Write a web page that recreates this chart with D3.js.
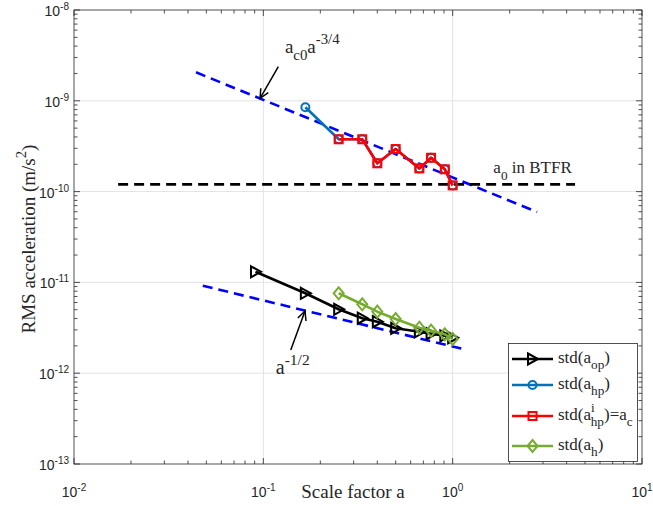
<!DOCTYPE html>
<html lang="en">
<head>
<meta charset="UTF-8">
<script src="https://d3js.org/d3.v7.min.js"></script>
<style>
    body { margin: 0; background: #fff; }
    text { fill: #262626; }
</style>
</head>
<body>
<script>

    // scale factor a of each snapshot, and the rms accelerations (m/s^2)
    var aOp   = [0.0909, 0.1667, 0.25, 0.333, 0.4, 0.5, 0.667, 0.769, 0.909, 1.0];
    var stdOp = [1.31e-11, 7.59e-12, 5.06e-12, 4.03e-12, 3.69e-12, 3.12e-12, 2.86e-12, 2.72e-12, 2.58e-12, 2.46e-12];

    var aHp   = [0.1667, 0.25, 0.333, 0.4, 0.5, 0.667, 0.769, 0.909, 1.0];
    var stdHp = [8.5e-10, 3.77e-10, 3.77e-10, 2.05e-10, 2.94e-10, 1.8e-10, 2.36e-10, 1.76e-10, 1.17e-10];

    var aC    = [0.25, 0.333, 0.4, 0.5, 0.667, 0.769, 0.909, 1.0];
    var stdC  = [3.77e-10, 3.77e-10, 2.05e-10, 2.94e-10, 1.8e-10, 2.36e-10, 1.76e-10, 1.17e-10];

    var aH    = [0.25, 0.333, 0.4, 0.5, 0.667, 0.769, 0.909, 1.0];
    var stdH  = [7.59e-12, 5.74e-12, 4.76e-12, 3.95e-12, 3.17e-12, 2.94e-12, 2.68e-12, 2.38e-12];

    // reference lines
    var ac0LineA = [0.0441, 2.79];
    var ac0LineV = [2.06e-9, 5.96e-11];
    var halfLineA = [0.0479, 1.13];
    var halfLineV = [9.2e-12, 1.85e-12];
    var a0LineA = [0.0171, 4.43];
    var a0LineV = [1.2e-10, 1.2e-10];

    var xTicks = [1e-2, 1e-1, 1e0, 1e1];
    var xTickExp = ["-2", "-1", "0", "1"];
    var yTicks = [1e-13, 1e-12, 1e-11, 1e-10, 1e-9, 1e-8];
    var yTickExp = ["-13", "-12", "-11", "-10", "-9", "-8"];

    var width = 653, height = 506;
    var pLeft = 74, pRight = 642, pTop = 10, pBottom = 464;

    var svg = d3.select("body").append("svg")
        .attr("width", width)
        .attr("height", height);

    var x = d3.scaleLog().domain([1e-2, 1e1]).range([pLeft, pRight]);
    var y = d3.scaleLog().domain([1e-13, 1e-8]).range([pBottom, pTop]);

    // grid
    svg.append("g").selectAll("line")
        .data(xTicks.slice(1, -1))
        .enter().append("line")
        .attr("x1", function (d) { return x(d); })
        .attr("x2", function (d) { return x(d); })
        .attr("y1", pTop).attr("y2", pBottom)
        .attr("stroke", "#e3e3e3").attr("stroke-width", 1);
    svg.append("g").selectAll("line")
        .data(yTicks.slice(1, -1))
        .enter().append("line")
        .attr("y1", function (d) { return y(d); })
        .attr("y2", function (d) { return y(d); })
        .attr("x1", pLeft).attr("x2", pRight)
        .attr("stroke", "#e3e3e3").attr("stroke-width", 1);

    // ticks, inward on all four sides
    function minorTicks(lo, hi) {
        var out = [];
        for (var e = lo; e < hi; e++)
            for (var m = 2; m <= 9; m++) out.push(m * Math.pow(10, e));
        return out;
    }
    var xMinor = minorTicks(-2, 1);
    var yMinor = minorTicks(-13, -8);

    var axis = svg.append("g").attr("stroke", "#262626").attr("stroke-width", 0.8);
    function tickX(list, len) {
        list.forEach(function (d) {
            axis.append("line").attr("x1", x(d)).attr("x2", x(d)).attr("y1", pBottom).attr("y2", pBottom - len);
            axis.append("line").attr("x1", x(d)).attr("x2", x(d)).attr("y1", pTop).attr("y2", pTop + len);
        });
    }
    function tickY(list, len) {
        list.forEach(function (d) {
            axis.append("line").attr("y1", y(d)).attr("y2", y(d)).attr("x1", pLeft).attr("x2", pLeft + len);
            axis.append("line").attr("y1", y(d)).attr("y2", y(d)).attr("x1", pRight).attr("x2", pRight - len);
        });
    }
    tickX(xTicks, 6); tickX(xMinor, 3.5);
    tickY(yTicks, 6); tickY(yMinor, 3.5);

    // tick labels
    var tickFont = "'Liberation Sans', Arial, sans-serif";
    xTicks.forEach(function (d, i) {
        var t = svg.append("text")
            .attr("x", x(d)).attr("y", 497)
            .attr("text-anchor", "middle")
            .attr("font-family", tickFont).attr("font-size", "14px");
        t.append("tspan").text("10");
        t.append("tspan").attr("dy", -6).attr("font-size", "10px").text(xTickExp[i]);
    });
    yTicks.forEach(function (d, i) {
        var t = svg.append("text")
            .attr("x", 69).attr("y", y(d) + 6)
            .attr("text-anchor", "end")
            .attr("font-family", tickFont).attr("font-size", "14px");
        t.append("tspan").text("10");
        t.append("tspan").attr("dy", -6).attr("font-size", "10px").text(yTickExp[i]);
    });

    // rich text helper: parts = [[text, "sup"|"sub"|"", dx]]
    var serif = "'Liberation Serif', 'Times New Roman', serif";
    function rich(g, px, py, size, parts, anchor) {
        var t = g.append("text")
            .attr("x", px).attr("y", py)
            .attr("font-family", serif).attr("font-size", size + "px")
            .attr("text-anchor", anchor || "start");
        var cur = 0;
        parts.forEach(function (p) {
            var off = p[1] === "sup" ? -0.45 * size : (p[1] === "sub" ? 0.38 * size : 0);
            var s = t.append("tspan").attr("dy", off - cur).text(p[0]);
            if (p[1]) s.attr("font-size", (size * 0.78) + "px");
            if (p[2]) s.attr("dx", p[2]);
            cur = off;
        });
        return t;
    }

    // axis labels
    rich(svg, 353, 498, 19, [["Scale factor a", ""]], "middle");
    var yl = svg.append("g").attr("transform", "translate(35," + ((pTop + pBottom) / 2 + 2) + ") rotate(-90)");
    rich(yl, 0, 0, 19, [["RMS acceleration (m/s", ""], ["2", "sup"], [")", ""]], "middle");

    // reference dashed lines
    var line = d3.line()
        .x(function (d) { return x(d[0]); })
        .y(function (d) { return y(d[1]); });
    function dashed(as, vs, color) {
        svg.append("path")
            .attr("d", line(d3.zip(as, vs)))
            .attr("fill", "none")
            .attr("stroke", color)
            .attr("stroke-width", 2.6)
            .attr("stroke-dasharray", "10,6");
    }
    dashed(ac0LineA, ac0LineV, "#0000ff");
    dashed(halfLineA, halfLineV, "#0000ff");
    dashed(a0LineA, a0LineV, "#000000");

    // markers
    var markers = {
        tri: function (g) {
            g.append("path").attr("d", "M-4.5,-5.5L5.5,0L-4.5,5.5Z");
        },
        circ: function (g) {
            g.append("circle").attr("r", 4);
        },
        sq: function (g) {
            g.append("rect").attr("x", -4).attr("y", -4).attr("width", 8).attr("height", 8);
        },
        dia: function (g) {
            g.append("path").attr("d", "M0,-6L5,0L0,6L-5,0Z");
        }
    };

    function series(as, vs, color, mk) {
        var g = svg.append("g");
        g.append("path")
            .attr("d", line(d3.zip(as, vs)))
            .attr("fill", "none")
            .attr("stroke", color)
            .attr("stroke-width", 2.6)
            .attr("stroke-linejoin", "round");
        d3.zip(as, vs).forEach(function (d) {
            var m = g.append("g")
                .attr("transform", "translate(" + x(d[0]) + "," + y(d[1]) + ")")
                .attr("fill", "none").attr("stroke", color).attr("stroke-width", 2);
            markers[mk](m);
        });
    }
    series(aOp, stdOp, "#000000", "tri");
    series(aHp, stdHp, "#0072bd", "circ");
    series(aC, stdC, "#ff0000", "sq");
    series(aH, stdH, "#77ac30", "dia");

    // annotations with arrows
    function arrow(a0, v0, a1, v1) {
        var x0 = x(a0), y0 = y(v0), x1 = x(a1), y1 = y(v1);
        var ang = Math.atan2(y1 - y0, x1 - x0), L = 10, w = 0.45;
        svg.append("line").attr("x1", x0).attr("y1", y0).attr("x2", x1).attr("y2", y1)
            .attr("stroke", "#000").attr("stroke-width", 1.5);
        svg.append("path")
            .attr("d", "M" + (x1 - L * Math.cos(ang - w)) + "," + (y1 - L * Math.sin(ang - w)) +
                "L" + x1 + "," + y1 +
                "L" + (x1 - L * Math.cos(ang + w)) + "," + (y1 - L * Math.sin(ang + w)))
            .attr("fill", "none").attr("stroke", "#000").attr("stroke-width", 1.5);
    }
    arrow(0.12, 2.375e-9, 0.0961, 1.066e-9);
    arrow(0.1396, 1.8e-12, 0.166, 4.84e-12);

    rich(svg, x(0.130), y(3.36e-9), 19, [["a", ""], ["c0", "sub"], ["a", ""], ["-3/4", "sup"]]);
    rich(svg, x(0.1163), y(9.8e-13), 20, [["a", ""], ["-1/2", "sup"]]);
    rich(svg, x(1.64), y(1.59e-10), 17, [["a", ""], ["0", "sub"], [" in BTFR", ""]]);

    // legend
    var lg = svg.append("g");
    lg.append("rect")
        .attr("x", 508.5).attr("y", 343.5).attr("width", 129).attr("height", 118)
        .attr("fill", "#fff").attr("stroke", "#262626").attr("stroke-width", 0.8);
    var legendItems = [
        { color: "#000000", mk: "tri", parts: [["std(a", ""], ["op", "sub"], [")", ""]] },
        { color: "#0072bd", mk: "circ", parts: [["std(a", ""], ["hp", "sub"], [")", ""]] },
        { color: "#ff0000", mk: "sq", parts: [["std(a", ""], ["i", "sup"], ["hp", "sub", -4], [")=a", ""], ["c", "sub"]] },
        { color: "#77ac30", mk: "dia", parts: [["std(a", ""], ["h", "sub"], [")", ""]] }
    ];
    var legendY = [359, 385, 416, 446];
    legendItems.forEach(function (it, i) {
        var ly = legendY[i];
        lg.append("line").attr("x1", 512).attr("x2", 553).attr("y1", ly).attr("y2", ly)
            .attr("stroke", it.color).attr("stroke-width", 2.6);
        var m = lg.append("g").attr("transform", "translate(532.5," + ly + ")")
            .attr("fill", "none").attr("stroke", it.color).attr("stroke-width", 2);
        markers[it.mk](m);
        rich(lg, 558, ly + 4, 17, it.parts);
    });

    // box
    svg.append("rect")
        .attr("x", pLeft).attr("y", pTop).attr("width", pRight - pLeft).attr("height", pBottom - pTop)
        .attr("fill", "none").attr("stroke", "#262626").attr("stroke-width", 0.8);

</script>
</body>
</html>
